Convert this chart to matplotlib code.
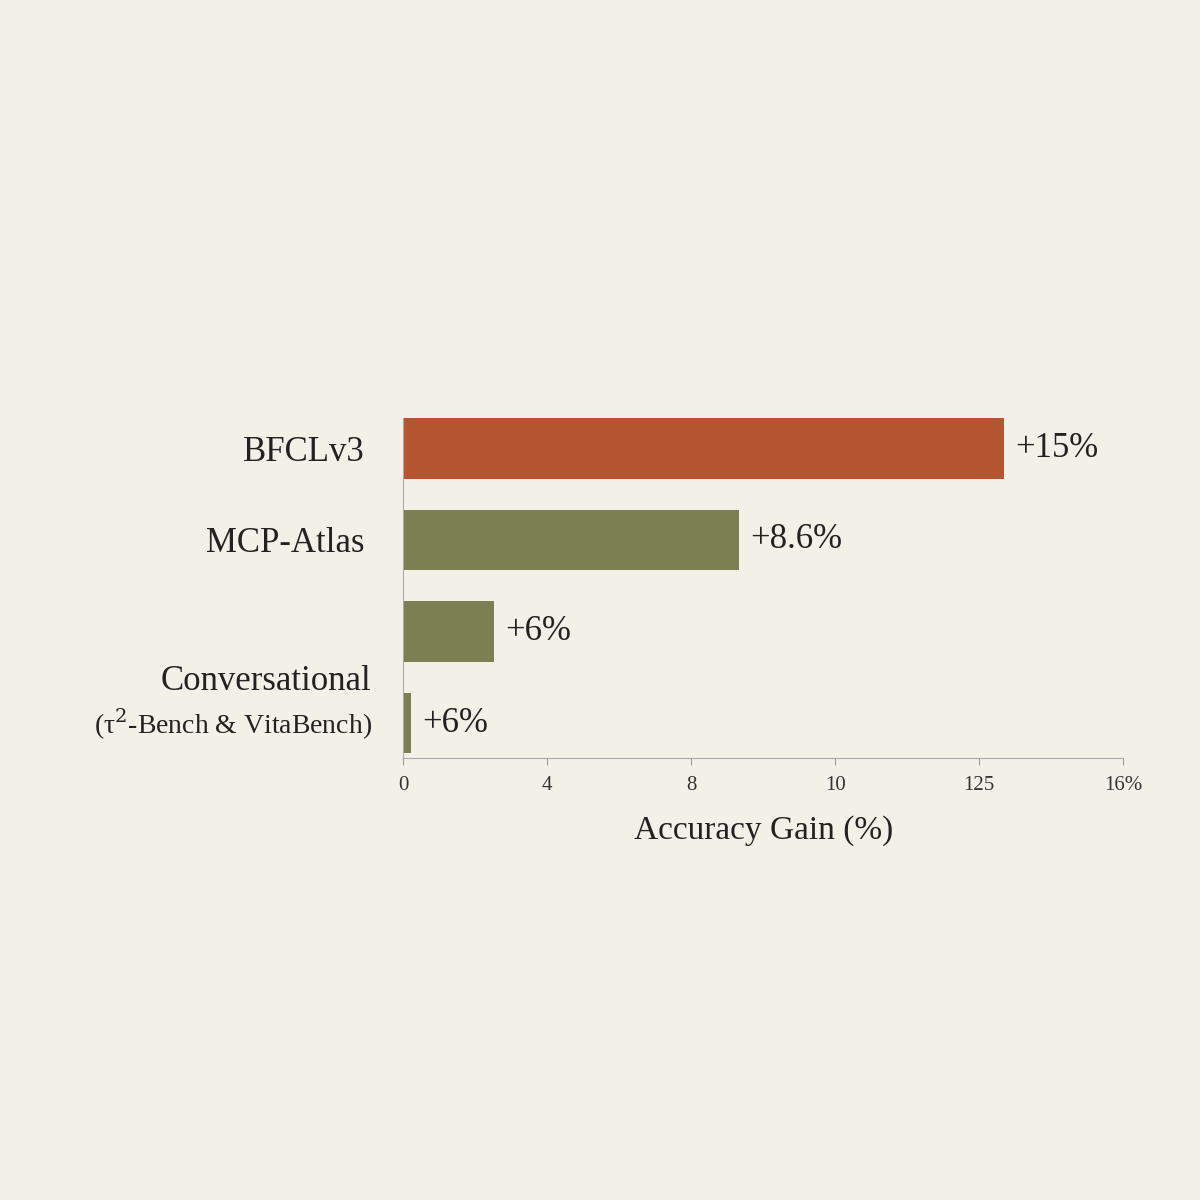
import matplotlib
matplotlib.use("Agg")
import matplotlib.pyplot as plt

categories = ["BFCLv3", "MCP-Atlas", "", "Conversational"]
values = [13.36, 7.47, 2.02, 0.18]
value_labels = ["+15%", "+8.6%", "+6%", "+6%"]
colors = ["#B5552F", "#7A8052", "#7A8052", "#7A8052"]
tick_pos = [0, 3.2, 6.4, 9.6, 12.8, 16]
tick_labels = ["0", "4", "8", "10", "125", "16%"]

plt.rcParams['font.family'] = ['Liberation Serif', 'DejaVu Serif']
plt.rcParams['mathtext.fontset'] = 'dejavuserif'
bg = "#F3F0E8"
fig = plt.figure(figsize=(12, 12), dpi=100, facecolor=bg)
ax = fig.add_axes([0.336, 0.368, 0.6, 0.2835], facecolor=bg)
y = list(range(len(values)))
ax.barh(y, values, height=0.66, color=colors)
for yi, v, lab in zip(y, values, value_labels):
    ax.text(v + 0.25, yi, lab, va='center', ha='left', fontsize=25, color='#222222')
ax.set_ylim(3.385, -0.33)
ax.set_xlim(0, 16)
ax.set_xticks(tick_pos)
ax.set_xticklabels(tick_labels, fontsize=15, color='#333333')
ax.tick_params(axis='x', length=5, color='#999999', pad=8)
ax.set_yticks([0, 1])
ax.set_yticklabels(categories[:2], fontsize=25, color='#222222')
ax.tick_params(axis='y', length=0, pad=28)
ax.text(-0.7, 2.55, categories[3], ha='right', va='center', fontsize=25, color='#222222')
ax.text(-0.7, 3.0, "(τ$^2$-Bench & VitaBench)", ha='right', va='center', fontsize=20, color='#222222')
for s in ['top', 'right']:
    ax.spines[s].set_visible(False)
for s in ['left', 'bottom']:
    ax.spines[s].set_color('#AAAAAA')
ax.set_xlabel("Accuracy Gain (%)", fontsize=24, color='#222222', labelpad=14)
fig.savefig("out.png", facecolor=bg)
